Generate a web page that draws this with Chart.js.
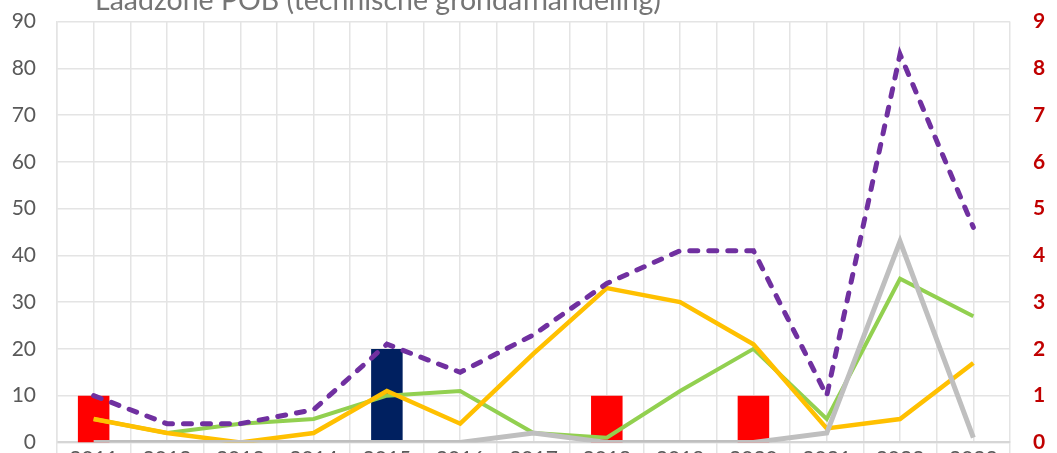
<!DOCTYPE html>
<html>
<head>
<meta charset="utf-8">
<script src="https://cdn.jsdelivr.net/npm/chart.js@4/dist/chart.umd.min.js"></script>
<style>
  html, body { margin: 0; padding: 0; background: #fff; overflow: hidden; }
  #wrap { position: relative; width: 1057px; height: 453px; overflow: hidden; }
  #box { position: absolute; left: 0; top: -14px; width: 1057px; height: 492px; }
</style>
</head>
<body>
<div id="wrap"><div id="box"><canvas id="chart"></canvas></div></div>
<script>
// Laadzone POB - yearly counts
const years = ['2011', '2012', '2013', '2014', '2015', '2016', '2017', '2018', '2019', '2020', '2021', '2022', '2023'];

// bars (right axis, red) and the single dark blue bar (left axis)
const redBars = [1, null, null, null, null, null, null, 1, null, 1, null, null, null];
const navyBars = [null, null, null, null, 20, null, null, null, null, null, null, null, null];

// lines (left axis)
const totaal = [10, 4, 4, 7, 21, 15, 23, 34, 41, 41, 10, 83, 46];
const groen = [5, 2, 4, 5, 10, 11, 2, 1, 11, 20, 5, 35, 27];
const geel = [5, 2, 0, 2, 11, 4, 19, 33, 30, 21, 3, 5, 17];
const grijs = [0, 0, 0, 0, 0, 0, 2, 0, 0, 0, 2, 43, 1];

const chartTitle = 'Laadzone POB (technische grondafhandeling)';
const fontFamily = 'Lato, "Open Sans", sans-serif';
const gridColor = '#e4e4e4';

// title sits partly above the canvas, drawn by hand
const titlePlugin = {
  id: 'topTitle',
  afterDraw(chart) {
    const { ctx, chartArea } = chart;
    ctx.save();
    ctx.font = '28.5px ' + fontFamily;
    ctx.fillStyle = '#757575';
    ctx.textAlign = 'left';
    ctx.textBaseline = 'alphabetic';
    ctx.fillText(chartTitle, chartArea.left + 38, chartArea.top - 12);
    ctx.restore();
  }
};

new Chart(document.getElementById('chart'), {
  type: 'bar',
  data: {
    labels: years,
    datasets: [
      {
        type: 'line', label: 'Grijs', data: grijs, yAxisID: 'y',
        borderColor: '#bfbfbf', borderWidth: 5, pointRadius: 0, tension: 0, order: 1
      },
      {
        type: 'line', label: 'Totaal', data: totaal, yAxisID: 'y',
        borderColor: '#7030a0', borderWidth: 5, borderDash: [8, 11], borderCapStyle: 'round',
        pointRadius: 0, tension: 0, order: 2
      },
      {
        type: 'line', label: 'Geel', data: geel, yAxisID: 'y',
        borderColor: '#ffc000', borderWidth: 4.5, pointRadius: 0, tension: 0, order: 3
      },
      {
        type: 'line', label: 'Groen', data: groen, yAxisID: 'y',
        borderColor: '#92d050', borderWidth: 4, pointRadius: 0, tension: 0, order: 4
      },
      {
        label: 'Navy', data: navyBars, yAxisID: 'y', backgroundColor: '#002060',
        grouped: false, categoryPercentage: 1, barPercentage: 0.43, order: 6
      },
      {
        label: 'Rood', data: redBars, yAxisID: 'y1', backgroundColor: '#ff0000',
        grouped: false, categoryPercentage: 1, barPercentage: 0.43, order: 5
      }
    ]
  },
  options: {
    responsive: true,
    maintainAspectRatio: false,
    animation: false,
    layout: { padding: { top: 10, left: 0, right: 0, bottom: 0 } },
    plugins: {
      legend: { display: false },
      title: { display: false },
      tooltip: { enabled: false }
    },
    scales: {
      x: {
        offset: true,
        grid: { offset: true, color: gridColor, lineWidth: 1.5, tickLength: 15, tickColor: gridColor },
        border: { color: '#d6d6d6', width: 2 },
        ticks: { color: '#595959', font: { family: fontFamily, size: 21 }, padding: -11 }
      },
      x2: {
        position: 'bottom',
        offset: true,
        grid: { offset: false, color: gridColor, lineWidth: 1.5, drawTicks: false },
        border: { display: false },
        ticks: { display: false }
      },
      y: {
        position: 'left',
        min: 0, max: 90,
        afterFit(scale) { scale.width = 57; },
        ticks: { stepSize: 10, color: '#595959', font: { family: fontFamily, size: 21 }, padding: 21 },
        grid: { color: gridColor, lineWidth: 1.5, drawTicks: false },
        border: { color: gridColor, width: 1.5 }
      },
      y1: {
        position: 'right',
        min: 0, max: 9,
        afterFit(scale) { scale.width = 47; },
        ticks: { stepSize: 1, color: '#c00000', font: { family: fontFamily, size: 21, weight: 'bold' }, padding: 23 },
        grid: { display: false, drawTicks: false },
        border: { display: false }
      }
    }
  },
  plugins: [titlePlugin]
});
</script>
</body>
</html>
